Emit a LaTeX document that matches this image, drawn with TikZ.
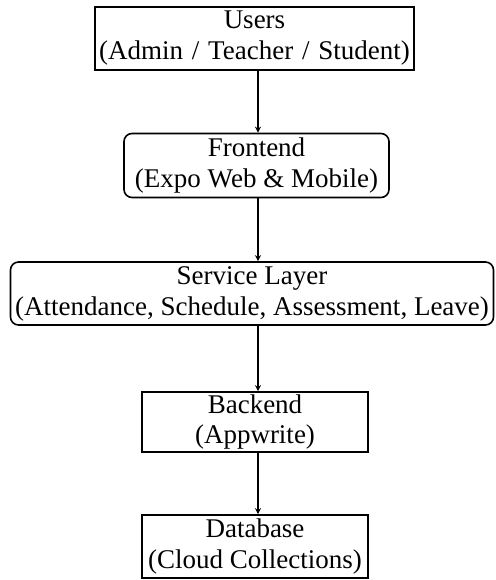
\documentclass[tikz,border=0pt]{standalone}
\usepackage{fontspec}
\setmainfont{Liberation Serif}
\usepackage{tikz}
\usetikzlibrary{arrows}
\usetikzlibrary{arrows.meta}

\begin{document}
\begin{tikzpicture}[x=0.5pt,y=-0.5pt]
\tikzstyle{every node}=[draw,line width=0.8pt,align=center,inner sep=0pt,font=\fontsize{13.5}{15.5}\selectfont]
\tikzstyle{layer}=[rounded corners=4pt]
\useasboundingbox (0,0) rectangle (495,580);
\node (users) at (254.5,38.5) [minimum width=159.5pt,minimum height=31.5pt] {Users\\(Admin\kern1pt{} / \kern1pt Teacher\kern1pt{} / \kern1pt Student)};
\node (front) at (256.5,165.5) [layer,minimum width=132.5pt,minimum height=32pt] {Frontend\\(Expo Web \& Mobile)};
\node (serv) at (252,293.5) [layer,minimum width=241.5pt,minimum height=31.5pt] {Service Layer\\(Attendance, Schedule, Assessment, Leave)};
\node (back) at (255,422) [minimum width=113pt,minimum height=30pt] {Backend\\(Appwrite)};
\node (db) at (255,546.5) [minimum width=113pt,minimum height=31.5pt] {Database\\(Cloud Collections)};
\coordinate (spine) at (258,0);
\path[line width=0.8pt,arrows={-Stealth[length=3pt,width=3pt]}]
  (users.south -| spine) edge (front.north -| spine)
  (front.south -| spine) edge (serv.north -| spine)
  (serv.south -| spine) edge (back.north -| spine)
  (back.south -| spine) edge (db.north -| spine);
\end{tikzpicture}
\end{document}
